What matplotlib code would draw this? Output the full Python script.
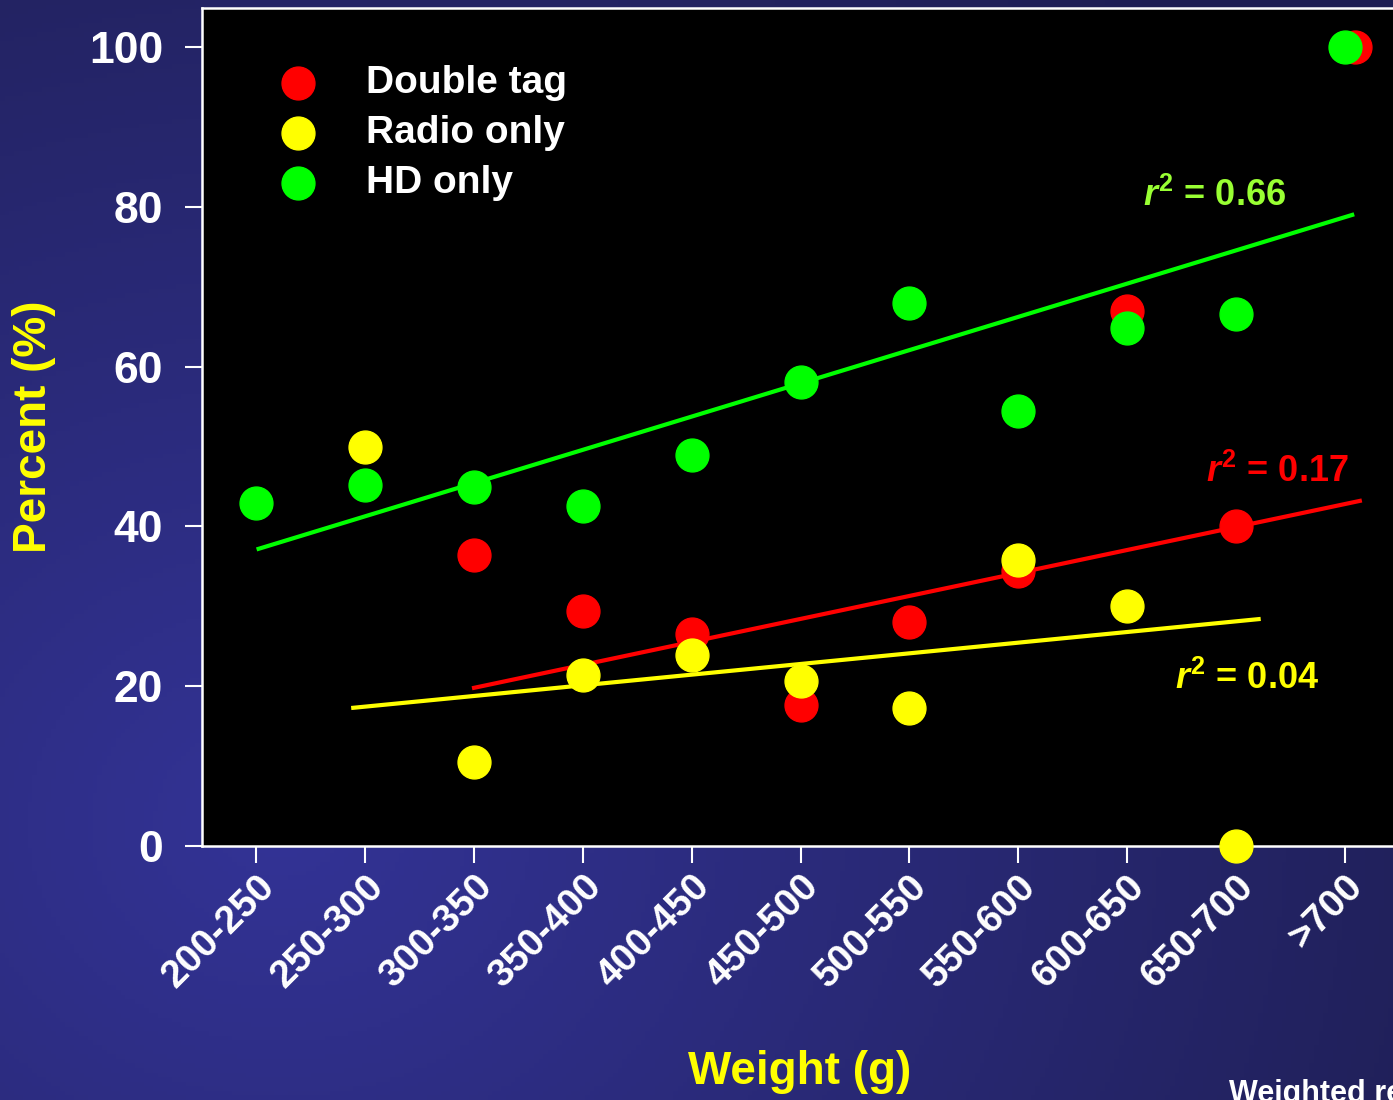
import numpy as np
import matplotlib
matplotlib.use("Agg")
import matplotlib.pyplot as plt

plt.rcParams['font.family'] = ['Liberation Sans', 'DejaVu Sans']
plt.rcParams['font.weight'] = 'bold'
plt.rcParams['mathtext.fontset'] = 'custom'
plt.rcParams['mathtext.rm'] = 'Liberation Sans:bold'
plt.rcParams['mathtext.it'] = 'Liberation Sans:italic:bold'
plt.rcParams['mathtext.bf'] = 'Liberation Sans:bold'

# weight classes
categories = ["200-250", "250-300", "300-350", "350-400", "400-450", "450-500",
              "500-550", "550-600", "600-650", "650-700", ">700"]

# percent per class (None = no point)
double_tag = [None, None, 36.4, 29.4, 26.5, 17.6, 28.0, 34.4, 67.0, 40.0, 100.0]
radio_only = [None, 50.0, 10.5, 21.4, 23.9, 20.7, 17.3, 35.8, 30.0, 0.0, None]
hd_only = [42.9, 45.2, 44.9, 42.6, 48.9, 58.1, 68.0, 54.4, 64.8, 66.6, 100.0]
double_tag_shift = 0.1  # red >700 point sits a bit right of the green one

# weighted regression lines (start/end in class index, percent)
fit_x = {'hd': [0.02, 10.07], 'double': [2.0, 10.14], 'radio': [0.89, 9.21]}
fit_y = {'hd': [37.2, 79.0], 'double': [19.8, 43.2], 'radio': [17.3, 28.4]}
r2 = {'hd': 0.66, 'double': 0.17, 'radio': 0.04}

RED = '#ff0000'
YEL = '#ffff00'
GRN = '#00ff00'

fig = plt.figure(figsize=(13.93, 11), dpi=100)

# background gradient
bg = fig.add_axes([0, 0, 1, 1], zorder=-10)
gx, gy = np.meshgrid(np.linspace(0, 1, 300), np.linspace(0, 1, 240))
d = np.sqrt(((gx - 0.2) / 1.0) ** 2 + ((gy - 0.25) / 1.1) ** 2)
t = np.clip(d / 0.95, 0, 1)
bright = np.array([51, 51, 150]) / 255.0
dark = np.array([30, 30, 82]) / 255.0
img = bright[None, None, :] * (1 - t[..., None]) + dark[None, None, :] * t[..., None]
bg.imshow(img, origin='lower', extent=[0, 1, 0, 1], aspect='auto')
bg.axis('off')

ax = fig.add_axes([202 / 1393, 254 / 1100, (1399 - 202) / 1393, (846 - 8) / 1100])
ax.set_facecolor('black')

x = np.arange(len(categories))

def pts(vals, shift=0.0):
    xs = [i + shift for i, v in enumerate(vals) if v is not None]
    ys = [v for v in vals if v is not None]
    return xs, ys

# regression lines
ax.plot(fit_x['hd'], fit_y['hd'], color=GRN, lw=3, zorder=2)
ax.plot(fit_x['double'], fit_y['double'], color=RED, lw=3, zorder=2)
ax.plot(fit_x['radio'], fit_y['radio'], color=YEL, lw=3, zorder=2)

xs, ys = pts(double_tag)
xs[-1] += double_tag_shift
ax.scatter(xs, ys, s=560, color=RED, zorder=3, label='Double tag', clip_on=False)
xs, ys = pts(radio_only)
ax.scatter(xs, ys, s=560, color=YEL, zorder=4, label='Radio only', clip_on=False)
xs, ys = pts(hd_only)
ax.scatter(xs, ys, s=560, color=GRN, zorder=5, label='HD only', clip_on=False)

ax.text(8.145, 81.4, r'$r^2$ = %.2f' % r2['hd'], color='#99ff33', fontsize=26,
        ha='left', va='center')
ax.text(8.73, 46.8, r'$r^2$ = %.2f' % r2['double'], color=RED, fontsize=26,
        ha='left', va='center')
ax.text(8.44, 20.9, r'$r^2$ = %.2f' % r2['radio'], color=YEL, fontsize=26,
        ha='left', va='center')

leg = ax.legend(loc='upper left', bbox_to_anchor=(0.035, 0.95), frameon=False,
                fontsize=28, labelcolor='white', scatterpoints=1,
                handletextpad=0.75, labelspacing=0.36, borderaxespad=0)

ax.set_xlim(-0.5, 10.5)
ax.set_ylim(0, 104.9)
ax.set_yticks([0, 20, 40, 60, 80, 100])
ax.set_xticks(x)
ax.set_xticklabels(categories, rotation=45, ha='right', rotation_mode='anchor',
                   va='top')
ax.tick_params(axis='y', colors='white', labelsize=32, length=12, width=1.5, pad=16)
ax.tick_params(axis='x', colors='white', labelsize=28, length=12, width=1.5, pad=4)
for sp in ax.spines.values():
    sp.set_color('white')
    sp.set_linewidth(1.8)

fig.text(34 / 1393, 1 - 427 / 1100, 'Percent (%)', color=YEL, fontsize=33,
         rotation=90, ha='center', va='center')
fig.text(800 / 1393, 1 - 1072 / 1100, 'Weight (g)', color=YEL, fontsize=33,
         ha='center', va='center')
fig.text(1229 / 1393, -0.002, 'Weighted regression', color='white', fontsize=22,
         ha='left', va='baseline')

fig.savefig('out.png', dpi=100)
